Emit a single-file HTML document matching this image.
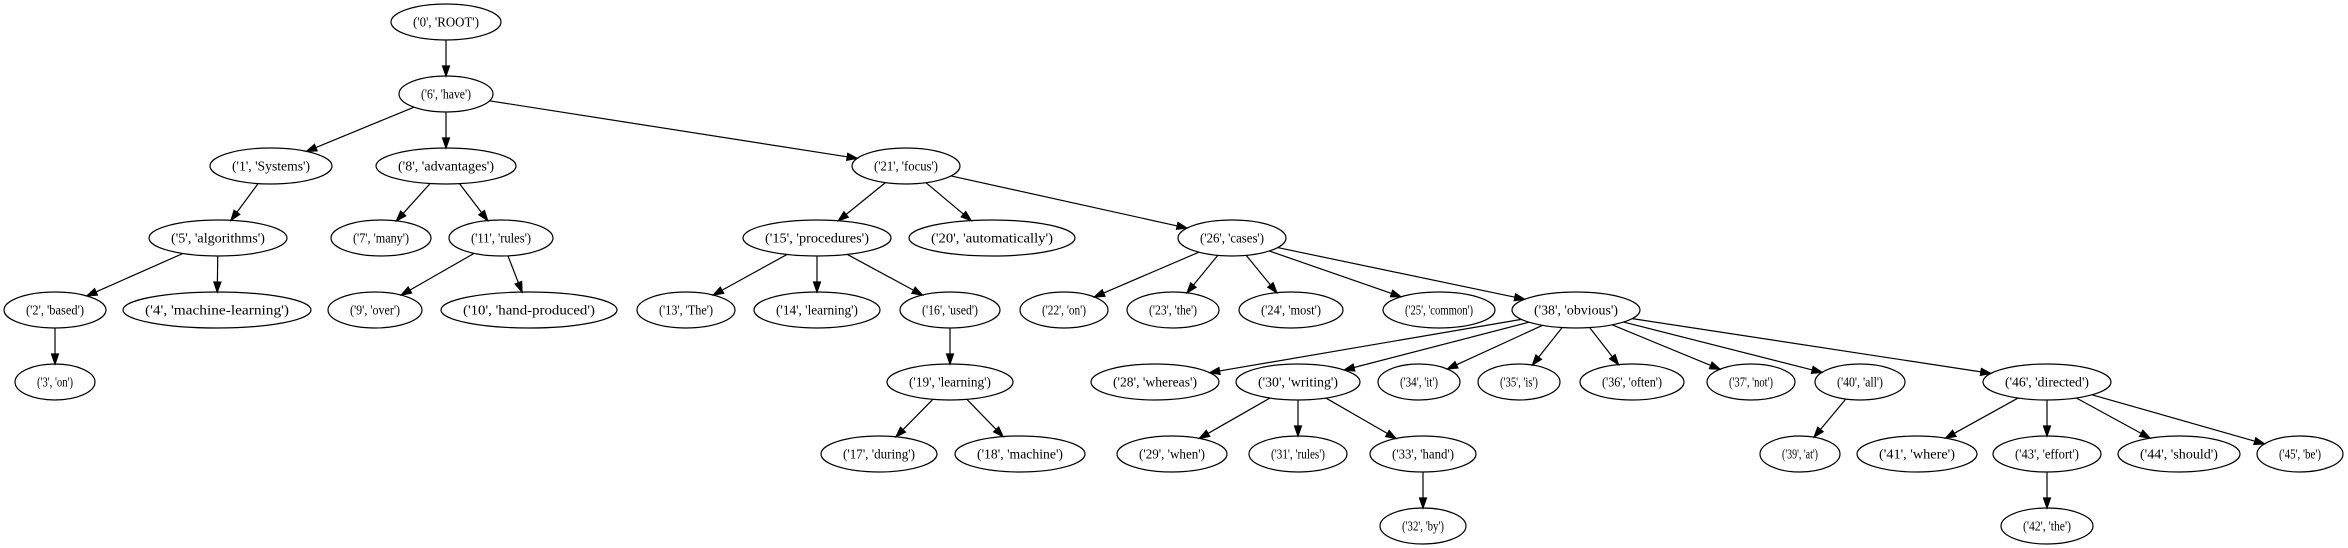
<!DOCTYPE html>
<html><head><meta charset="utf-8"><style>html,body{margin:0;padding:0;background:#fff}svg{display:block}text{font-family:"Liberation Serif",serif;font-size:14px}</style></head>
<body>
<svg id="g" width="2348" height="548" viewBox="0 0 2348 548" xmlns="http://www.w3.org/2000/svg">
<g id="e" stroke="#000" stroke-width="1.2" fill="none"></g>
<g id="n"></g>
</svg>
<script>
var N={
r:[446,0,55,"('0', 'ROOT')"],
6:[446,1,47,"('6', 'have')"],
1:[271,2,61,"('1', 'Systems')"],
8:[446,2,70,"('8', 'advantages')"],
21:[906,2,54,"('21', 'focus')"],
5:[218,3,69,"('5', 'algorithms')"],
7:[381,3,50,"('7', 'many')"],
11:[501,3,52,"('11', 'rules')"],
15:[817,3,74,"('15', 'procedures')"],
20:[992,3,83,"('20', 'automatically')"],
26:[1232,3,54,"('26', 'cases')"],
2:[55,4,51,"('2', 'based')"],
4:[217,4,94,"('4', 'machine-learning')"],
9:[375,4,47,"('9', 'over')"],
10:[529,4,88,"('10', 'hand-produced')"],
13:[686,4,49,"('13', 'The')"],
14:[817,4,63,"('14', 'learning')"],
16:[950,4,50,"('16', 'used')"],
22:[1064,4,44,"('22', 'on')"],
23:[1173,4,46,"('23', 'the')"],
24:[1291,4,52,"('24', 'most')"],
25:[1439,4,56,"('25', 'common')"],
38:[1576,4,64,"('38', 'obvious')"],
3:[55,5,40,"('3', 'on')"],
19:[950,5,63,"('19', 'learning')"],
28:[1155,5,64,"('28', 'whereas')"],
30:[1298,5,62,"('30', 'writing')"],
34:[1419,5,41,"('34', 'it')"],
35:[1519,5,41,"('35', 'is')"],
36:[1632,5,52,"('36', 'often')"],
37:[1751,5,44,"('37', 'not')"],
40:[1860,5,45,"('40', 'all')"],
46:[2047,5,64,"('46', 'directed')"],
17:[879,6,58,"('17', 'during')"],
18:[1020,6,65,"('18', 'machine')"],
29:[1172,6,55,"('29', 'when')"],
31:[1298,6,49,"('31', 'rules')"],
33:[1423,6,53,"('33', 'hand')"],
39:[1800,6,40,"('39', 'at')"],
41:[1917,6,60,"('41', 'where')"],
43:[2047,6,54,"('43', 'effort')"],
44:[2179,6,61,"('44', 'should')"],
45:[2300,6,43,"('45', 'be')"],
32:[1423,7,43,"('32', 'by')"],
42:[2047,7,46,"('42', 'the')"]};
var E=[["r",6],[6,1],[6,8],[6,21],[1,5],[8,7],[8,11],[21,15],[21,20],[21,26],[5,2],[5,4],[11,9],[11,10],[15,13],[15,14],[15,16],[26,22],[26,23],[26,24],[26,25],[26,38],[2,3],[16,19],[38,28],[38,30],[38,34],[38,35],[38,36],[38,37],[38,40],[38,46],[19,17],[19,18],[30,29],[30,31],[30,33],[40,39],[46,41],[46,43],[46,44],[46,45],[33,32],[43,42]];
var RY=18;
function Y(r){return 22+72*r}
function bd(x,y,rx,dx,dy){var t=1/Math.sqrt(dx*dx/(rx*rx)+dy*dy/(RY*RY));return[x+dx*t,y+dy*t]}
var eg=document.getElementById('e'),ng=document.getElementById('n'),h='';
E.forEach(function(p){var a=N[p[0]],b=N[p[1]];var ax=a[0],ay=Y(a[1]),bx=b[0],by=Y(b[1]);var dx=bx-ax,dy=by-ay;
var s=bd(ax,ay,a[2],dx,dy),t=bd(bx,by,b[2],-dx,-dy);var L=Math.hypot(t[0]-s[0],t[1]-s[1]);var ux=(t[0]-s[0])/L,uy=(t[1]-s[1])/L;
var ex=t[0]-ux*10,ey=t[1]-uy*10;
h+='<line x1="'+s[0]+'" y1="'+s[1]+'" x2="'+ex+'" y2="'+ey+'"/>';
h+='<polygon fill="#000" points="'+t[0]+','+t[1]+' '+(ex-uy*3.5)+','+(ey+ux*3.5)+' '+(ex+uy*3.5)+','+(ey-ux*3.5)+'"/>';});
eg.innerHTML=h;h='';
for(var k in N){var a=N[k];h+='<ellipse cx="'+a[0]+'" cy="'+Y(a[1])+'" rx="'+a[2]+'" ry="'+RY+'" fill="none" stroke="#000" stroke-width="1.2"/><text x="'+a[0]+'" y="'+(Y(a[1])+4.5)+'" text-anchor="middle" textLength="'+(2*a[2]-44)+'" lengthAdjust="spacingAndGlyphs">'+a[3]+'</text>';}
ng.innerHTML=h;
</script>
</body></html>
